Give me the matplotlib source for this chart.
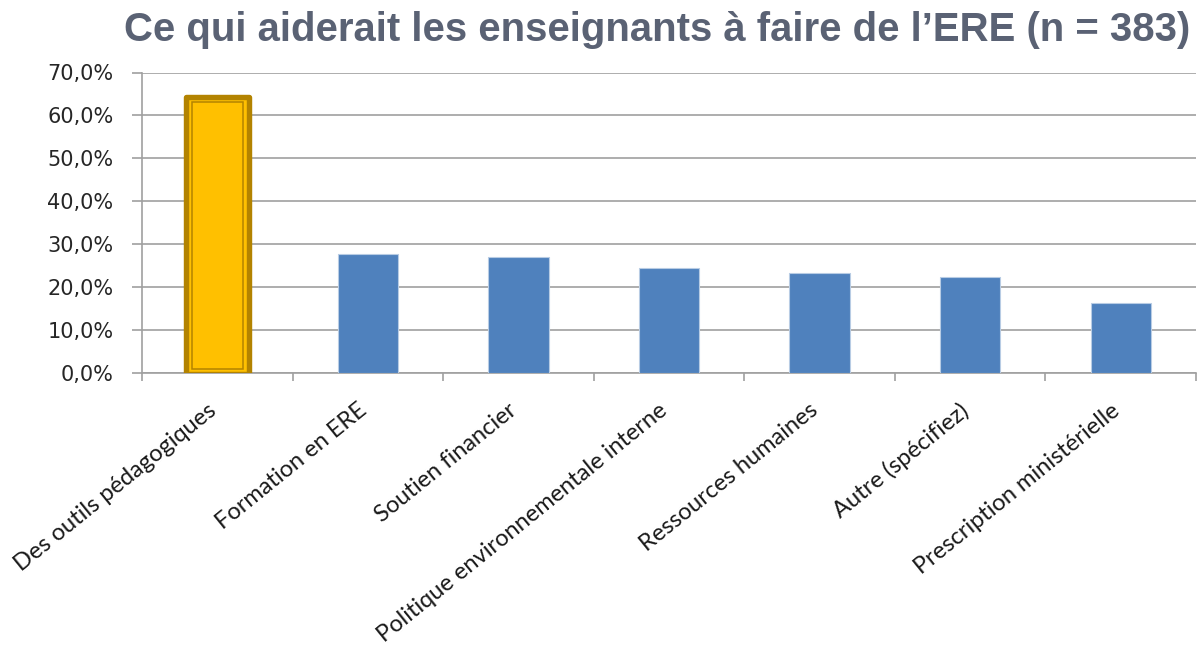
import matplotlib
matplotlib.use("Agg")
import matplotlib.pyplot as plt
import matplotlib.transforms as mtrans
import numpy as np
from matplotlib.ticker import FuncFormatter, MultipleLocator, FixedLocator

# ---- data ----
categories = ["Des outils pédagogiques", "Formation en ERE", "Soutien financier",
              "Politique environnementale interne", "Ressources humaines",
              "Autre (spécifiez)", "Prescription ministérielle"]
values = [63.9, 27.8, 27.1, 24.4, 23.4, 22.4, 16.2]
highlight = [True, False, False, False, False, False, False]
title = "Ce qui aiderait les enseignants à faire de l\u2019ERE (n = 383)"

W, H, DPI = 1197, 648, 100
fig = plt.figure(figsize=(W / DPI, H / DPI), dpi=DPI)
ax = fig.add_axes([142 / W, 1 - 373 / H, (1196 - 142) / W, (373 - 72.5) / H])

grid_c = "#a0a0a0"
blue = "#4F81BD"
gold = "#FFC000"
gold_dark = "#B38300"

x = np.arange(len(categories))
bw = 0.4
for xi, v, hl in zip(x, values, highlight):
    if hl:
        # outer thick dark border
        ax.bar(xi, v + 0.55, width=bw * 1.055, bottom=-0.2, color=gold,
               edgecolor=gold_dark, linewidth=3.9, joinstyle="round", zorder=3)
        # inner thin line (compound border)
        ax.bar(xi, v - 1.6, width=bw * 0.84, bottom=0.9, color="none",
               edgecolor=gold_dark, linewidth=1.1, zorder=4)
    else:
        ax.bar(xi, v, width=bw, color=blue, edgecolor="#b8cce4",
               linewidth=0.8, zorder=3)

ax.set_xlim(-0.5, len(categories) - 0.5)
ax.set_ylim(0, 70)
ax.yaxis.set_major_locator(MultipleLocator(10))
ax.yaxis.set_major_formatter(FuncFormatter(lambda v, p: f"{v:.1f}%".replace(".", ",")))
ax.grid(axis="y", color=grid_c, linewidth=1.2, zorder=0)
ax.set_axisbelow(True)

for s in ["top", "right"]:
    ax.spines[s].set_visible(False)
for s in ["left", "bottom"]:
    ax.spines[s].set_color(grid_c)
    ax.spines[s].set_linewidth(1.2)

ax.tick_params(axis="y", length=7.5, width=1.2, color=grid_c, pad=13,
               labelsize=15, labelcolor="#262626")
for lab in ax.get_yticklabels():
    lab.set_fontfamily("DejaVu Sans")

# x ticks: marks between categories, labels at centres
ax.xaxis.set_minor_locator(FixedLocator(np.arange(-0.5, len(categories), 1.0)))
ax.set_xticks(x)
ax.set_xticklabels(categories, rotation=39, ha="right", va="center",
                   rotation_mode="anchor", fontsize=17, fontfamily="Lato",
                   color="#1a1a1a")
ax.tick_params(axis="x", which="major", length=0, pad=25)
ax.tick_params(axis="x", which="minor", length=5.5, width=1.2, color=grid_c)
offset = mtrans.ScaledTranslation(-4 / DPI, 0, fig.dpi_scale_trans)
for lab in ax.get_xticklabels():
    lab.set_transform(lab.get_transform() + offset)

fig.text(657 / W, 1 - 30 / H, title, ha="center", va="center", fontsize=28.9,
         fontweight="bold", fontfamily="Liberation Sans", color="#5A6274")

fig.savefig("out.png", dpi=DPI)
